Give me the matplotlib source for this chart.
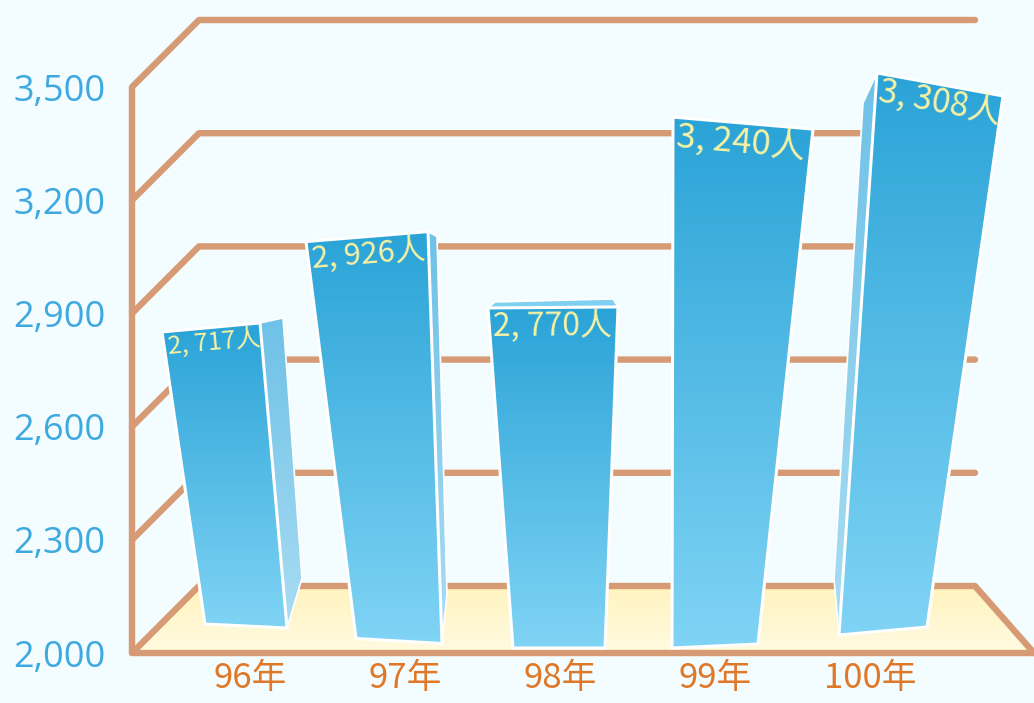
import numpy as np
import matplotlib
matplotlib.use("Agg")
import matplotlib.pyplot as plt
from matplotlib.patches import Polygon
from matplotlib.colors import LinearSegmentedColormap

# ---------------- data ----------------
years = ["96年", "97年", "98年", "99年", "100年"]
people = [2717, 2926, 2770, 3240, 3308]
y_ticks = [2000, 2300, 2600, 2900, 3200, 3500]
y_tick_labels = ["2,000", "2,300", "2,600", "2,900", "3,200", "3,500"]

# ---------------- style ----------------
BG = "#f3fcfe"
LINE_C = "#d69b74"
FLOOR_BACK, FLOOR_FRONT = "#fff3bd", "#fffbe2"
BAR_TOP, BAR_BOT = "#2aa3d7", "#80d4f5"
SIDE_TOP, SIDE_BOT = "#6ec1e7", "#a9ddf3"
TOPFACE_C = "#7fd0f1"
LABEL_C = "#f7f2a4"
YTICK_C = "#3ea9e1"
XTICK_C = "#df7829"
CJK = ["Noto Sans CJK TC", "DejaVu Sans"]

W, H = 1034, 703
FIRST_CAT_PX, CAT_STEP_PX = 250, 155
FRONT_AXIS_PX, FLOOR_PX = 132, 653
DEPTH_PX = 67
BACK_RIGHT_PX = 975

# perspective styling per bar (display px)
BOT_SHIFT = [-4, -6, -1, 0, 13]
BOT_LIFT = [27, 12, 5, 7, 22]
LEAN = [-35, -32, -6, 28, 57]
TOP_HW = [49, 61, 65, 70, 63]
BOT_HW = [41, 43, 46, 43, 44]
TOP_TILT = [9, 10, 1, -12, -23]
BOT_TILT = [-4, -5, 0, 4, 8]
TOP_DROP = [12, 0, 12, 5, -8]
LABEL_SIZE = [18, 22, 23, 25, 24]
SIDES = [
    ("right", (23, 5), (15, 50)),
    ("right", (9, -5), (5, 50)),
    ("top", (7, 6), (-5, 8)),
    None,
    ("left", (-14, -30), (-5, 56)),
]

fig = plt.figure(figsize=(W / 100, H / 100), dpi=100, facecolor=BG)
ax = fig.add_axes([FRONT_AXIS_PX / W, (H - FLOOR_PX) / H,
                   (W - FRONT_AXIS_PX) / W, FLOOR_PX / H])
ax.set_facecolor(BG)
x_lo = (FRONT_AXIS_PX - FIRST_CAT_PX) / CAT_STEP_PX
x_hi = (W - FIRST_CAT_PX) / CAT_STEP_PX
px_per_unit = (FLOOR_PX - 87) / (y_ticks[-1] - y_ticks[0])
y_lo = y_ticks[0]
y_hi = y_ticks[0] + FLOOR_PX / px_per_unit
ax.set_xlim(x_lo, x_hi)
ax.set_ylim(y_lo, y_hi)
for s in ax.spines.values():
    s.set_visible(False)

to_disp = ax.transData.transform
to_data = ax.transData.inverted().transform

def dpt(p):
    return to_data(np.array(p, dtype=float))

# depth in data units
o = to_disp((0, y_lo))
DX, DY = to_data(o + np.array([DEPTH_PX, DEPTH_PX])) - np.array([0, y_lo])
x_back_right = (BACK_RIGHT_PX - FIRST_CAT_PX) / CAT_STEP_PX

def gradient_fill(poly_pts, c_top, c_bot, z):
    pts = np.asarray(poly_pts)
    patch = Polygon(pts, closed=True, facecolor="none", edgecolor="none", zorder=z)
    ax.add_patch(patch)
    cmap = LinearSegmentedColormap.from_list("g", [c_top, c_bot])
    grad = np.linspace(0, 1, 256).reshape(-1, 1)
    im = ax.imshow(grad, cmap=cmap, aspect="auto", interpolation="bicubic",
                   extent=[pts[:, 0].min(), pts[:, 0].max(), pts[:, 1].min(), pts[:, 1].max()],
                   origin="upper", zorder=z, clip_on=True)
    im.set_clip_path(patch)
    return patch

# ---------------- floor ----------------
floor = [(x_lo, y_lo), (x_lo + DX, y_lo + DY), (x_back_right, y_lo + DY),
         (x_back_right + DX * 59 / 67, y_lo)]
gradient_fill(floor, FLOOR_BACK, FLOOR_FRONT, 1)

lw = 4.6
# grid lines (front diagonal + back horizontal)
for t in y_ticks:
    xs = [x_lo, x_lo + DX, x_back_right]
    ys = [t, t + DY, t + DY]
    if t == y_ticks[0]:
        xs.append(x_back_right + DX * 59 / 67)
        ys.append(y_lo)
    ax.plot(xs, ys, color=LINE_C, lw=lw, solid_capstyle="round",
            solid_joinstyle="round", zorder=2, clip_on=False)
# front floor edge and front vertical axis
ax.plot([x_hi + 0.05, x_lo, x_lo], [y_lo, y_lo, y_ticks[-1]], color=LINE_C, lw=lw,
        solid_capstyle="butt", solid_joinstyle="round", zorder=2, clip_on=False)

# ---------------- bars ----------------
for i, v in enumerate(people):
    top = to_disp((i, v)) + np.array([0, DEPTH_PX - TOP_DROP[i]])
    bot = to_disp((i, y_lo))
    xb = bot[0] + BOT_SHIFT[i]
    yb = bot[1] + BOT_LIFT[i]
    xt = xb + LEAN[i]
    yt = top[1]
    TL = np.array([xt - TOP_HW[i], yt - TOP_TILT[i] / 2])
    TR = np.array([xt + TOP_HW[i], yt + TOP_TILT[i] / 2])
    BR = np.array([xb + BOT_HW[i], yb + BOT_TILT[i] / 2])
    BL = np.array([xb - BOT_HW[i], yb - BOT_TILT[i] / 2])

    side = SIDES[i]
    if side is not None:
        kind, o1, o2 = side
        if kind == "right":
            sp = [TR, TR + o1, BR + o2, BR]
            c1, c2 = SIDE_TOP, SIDE_BOT
        elif kind == "left":
            sp = [TL, TL + o1, BL + o2, BL]
            c1, c2 = SIDE_TOP, SIDE_BOT
        else:
            sp = [TL, TL + o1, TR + o2, TR]
            c1, c2 = TOPFACE_C, TOPFACE_C
        spd = [dpt(p) for p in sp]
        gradient_fill(spd, c1, c2, 3)
        ax.add_patch(Polygon(spd, closed=True, facecolor="none", edgecolor="white",
                             lw=1.2, joinstyle="round", zorder=3.5))

    face = [dpt(p) for p in (TL, TR, BR, BL)]
    gradient_fill(face, BAR_TOP, BAR_BOT, 4)
    ax.add_patch(Polygon(face, closed=True, facecolor="none", edgecolor="white",
                         lw=2.2, joinstyle="miter", zorder=4.5))

    ang = np.degrees(np.arctan2(TOP_TILT[i], 2 * TOP_HW[i]))
    anchor = dpt(TL + np.array([5, -2]))
    label = f"{v:,}".replace(",", ", ") + "人"
    ax.text(anchor[0], anchor[1], label, color=LABEL_C, fontsize=LABEL_SIZE[i],
            family=CJK, ha="left", va="top", rotation=ang, rotation_mode="anchor",
            zorder=6)

# ---------------- ticks ----------------
ax.set_yticks(y_ticks)
ax.set_yticklabels(y_tick_labels, color=YTICK_C, fontsize=26, family=["Open Sans", "DejaVu Sans"])
ax.set_xticks(range(len(years)))
ax.set_xticklabels(years, color=XTICK_C, fontsize=25, family=CJK)
ax.tick_params(axis="y", length=0, pad=19)
ax.tick_params(axis="x", length=0, pad=6)
ax.set_xlim(x_lo, x_hi)
ax.set_ylim(y_lo, y_hi)

fig.savefig("out.png", dpi=100, facecolor=BG)
